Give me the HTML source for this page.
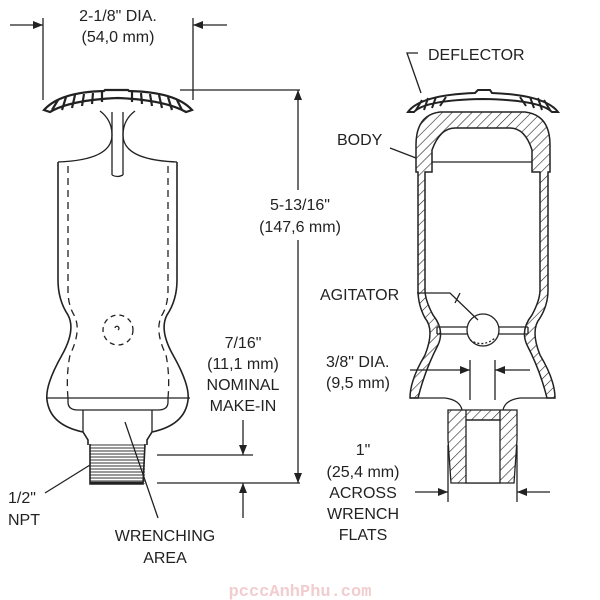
<!DOCTYPE html>
<html><head><style>body{margin:0;background:#fff}svg{display:block}text{font-family:"Liberation Sans",Arial,sans-serif;font-size:16px;fill:#222}</style></head>
<body>
<svg width="600" height="600" viewBox="0 0 600 600" xmlns="http://www.w3.org/2000/svg">
<defs>
<pattern id="h" width="7" height="7" patternUnits="userSpaceOnUse" patternTransform="rotate(45)"><line x1="0" y1="0" x2="0" y2="7" stroke="#222" stroke-width="1.2"/></pattern>
<pattern id="t" width="6" height="3" patternUnits="userSpaceOnUse"><line x1="0" y1="1" x2="6" y2="1" stroke="#333" stroke-width="1"/></pattern>
<marker id="a" markerWidth="10" markerHeight="8" refX="10" refY="4" orient="auto" markerUnits="userSpaceOnUse"><path d="M0,0 L10,4 L0,8 Z" fill="#222"/></marker>
</defs>
<g stroke="#222" fill="none" stroke-width="1.3">
<!-- top dim -->
<line x1="43" y1="18" x2="43" y2="100"/><line x1="193" y1="18" x2="193" y2="100"/>
<line x1="10" y1="25" x2="43" y2="25" marker-end="url(#a)"/><line x1="227" y1="25" x2="193" y2="25" marker-end="url(#a)"/>
<!-- left deflector -->
<path d="M44,110 Q60,92 104,91 L105,90 L128,90 L129,91 Q176,92 192,110 L186,112 Q165,100 118,98 Q70,100 50,112 Z" fill="#fff" stroke-width="2.2"/>
<path d="M52,110 L58,100 M62,110 L66,97 M72,108 L75,95 M82,106 L84,94 M92,104 L93,93 M102,102 L102,92 M132,102 L132,92 M142,104 L141,93 M152,106 L150,94 M162,108 L159,95 M172,110 L168,97 M182,110 L177,100" stroke-width="2.2"/>
<!-- stem & neck -->
<path d="M112,112 L112,175 M123,112 L123,175 M112,175 Q117,178 123,175"/>
<path d="M100,111 Q112,120 112,135 Q112,160 58,162 M135,111 Q123,120 123,135 Q123,160 177,162"/>
<!-- body outline -->
<path d="M58,162 L58,280 Q58,300 68,315 Q76,330 62,355 Q45,385 47,400 Q50,425 83,432 L88,440 L88,445 M177,162 L177,280 Q177,300 167,315 Q159,330 173,355 Q190,385 188,400 Q185,425 152,432 L147,440 L147,445" stroke-width="1.6"/>
<path d="M68,166 L68,290 Q68,305 74,315 Q82,330 70,355 Q66,375 68,398 M168,166 L168,290 Q168,305 162,315 Q154,330 166,355 Q170,375 168,398" stroke-dasharray="7,5"/>
<line x1="46" y1="398" x2="190" y2="398"/>
<path d="M68,398 L68,402 Q68,410 78,410 L158,410 Q168,410 168,402 L168,398"/>
<path d="M83,410 L83,432 M152,410 L152,432"/>
<circle cx="118" cy="330" r="15" stroke-dasharray="5,4"/>
<path d="M115,328 a2,2 0 1,1 3,2"/>
<!-- threads -->
<rect x="90" y="444" width="55" height="40" fill="url(#t)" stroke="none"/>
<path d="M90,444 L90,484 L143,484 L145,444" stroke-width="1.6"/>
<line x1="90" y1="483" x2="143" y2="483" stroke-width="2.5"/>
<!-- leaders -->
<line x1="45" y1="493" x2="90" y2="465"/><line x1="158" y1="518" x2="125" y2="422"/>
<!-- tall dim -->
<line x1="180" y1="90" x2="300" y2="90"/>
<line x1="298" y1="190" x2="298" y2="90" marker-end="url(#a)"/><line x1="298" y1="240" x2="298" y2="483" marker-end="url(#a)"/>
<line x1="157" y1="455" x2="253" y2="455"/><line x1="157" y1="483" x2="300" y2="483"/>
<line x1="243" y1="420" x2="243" y2="455" marker-end="url(#a)"/><line x1="243" y1="518" x2="243" y2="483" marker-end="url(#a)"/>
<!-- right body -->
<path d="M416,172 L416,145 Q416,115 440,112 L525,112 Q550,115 550,145 L550,172 L548,172 L548,290 Q548,305 540,318 Q530,330 540,355 Q555,380 555,398 L547,398 Q540,370 527,345 Q520,330 532,315 Q540,300 540,290 L540,172 L532,172 L532,150 Q525,128 510,128 L455,128 Q440,128 432,150 L432,172 L425,172 L425,290 Q425,300 433,315 Q445,330 438,345 Q425,370 418,398 L410,398 Q410,380 425,355 Q435,330 425,318 Q418,305 418,290 L418,172 Z" fill="url(#h)" stroke-width="1.5"/>
<line x1="432" y1="162" x2="532" y2="162"/>
<!-- right deflector -->
<path d="M408,112 Q420,95 475,93 L478,90 L490,90 L492,93 Q545,95 558,112 L552,112 Q540,100 483,99 Q425,100 414,112 Z" fill="#fff" stroke-width="2"/>
<path d="M416,110 L422,100 M424,110 L428,98 M432,108 L436,97 M440,106 L446,97 M550,110 L544,100 M542,110 L538,98 M534,108 L530,97 M526,106 L520,97" stroke-width="2"/>
<!-- agitator -->
<path d="M437,327 L467,327 M437,334 L467,334 M499,327 L528,327 M499,334 L528,334 M437,327 L437,334 M528,327 L528,334"/>
<circle cx="483" cy="330" r="16" fill="#fff"/>
<path d="M470,340 Q483,348 495,338" stroke-dasharray="2,2"/>
<!-- bottom neck -->
<path d="M410,398 L445,398 Q460,400 462,410 M555,398 L520,398 Q505,400 503,410"/>
<path d="M448,410 L517,410 L517,440 L514,483 L451,483 L448,440 Z" fill="url(#h)"/>
<rect x="466" y="420" width="34" height="63" fill="#fff"/>
<line x1="466" y1="410" x2="466" y2="420"/><line x1="500" y1="410" x2="500" y2="420"/><line x1="466" y1="420" x2="500" y2="420"/>
<!-- 3/8 dim -->
<line x1="470" y1="360" x2="470" y2="400"/><line x1="495" y1="360" x2="495" y2="400"/>
<line x1="410" y1="370" x2="470" y2="370" marker-end="url(#a)"/><line x1="530" y1="370" x2="495" y2="370" marker-end="url(#a)"/>
<!-- 1" dim -->
<line x1="448" y1="445" x2="448" y2="502"/><line x1="517" y1="445" x2="517" y2="502"/>
<line x1="415" y1="492" x2="448" y2="492" marker-end="url(#a)"/><line x1="550" y1="492" x2="517" y2="492" marker-end="url(#a)"/>
<!-- leaders right -->
<path d="M418,53 L407,53 L421,93"/><line x1="390" y1="148" x2="416" y2="158"/>
<path d="M417,293 L450,293 L478,320"/><line x1="460" y1="293" x2="455" y2="303"/>
</g>
<g text-anchor="middle">
<text x="118" y="21">2-1/8" DIA.</text><text x="118" y="42">(54,0 mm)</text>
<text x="300" y="210">5-13/16"</text><text x="300" y="232">(147,6 mm)</text>
<text x="243" y="348">7/16"</text><text x="243" y="369">(11,1 mm)</text><text x="243" y="390">NOMINAL</text><text x="243" y="411">MAKE-IN</text>
<text x="165" y="541">WRENCHING</text><text x="165" y="563">AREA</text>
<text x="363" y="455">1"</text><text x="363" y="477">(25,4 mm)</text><text x="363" y="498">ACROSS</text><text x="363" y="519">WRENCH</text><text x="363" y="540">FLATS</text>
</g>
<text x="8" y="503">1/2"</text><text x="8" y="525">NPT</text>
<text x="428" y="60">DEFLECTOR</text><text x="337" y="145">BODY</text><text x="320" y="300">AGITATOR</text>
<text x="326" y="367">3/8" DIA.</text><text x="326" y="388">(9,5 mm)</text>
<text x="300" y="596" text-anchor="middle" style="font-family:'Liberation Mono',monospace;font-weight:bold;font-size:17px;fill:#f2cdd0">pcccAnhPhu.com</text>
</svg>
</body></html>
